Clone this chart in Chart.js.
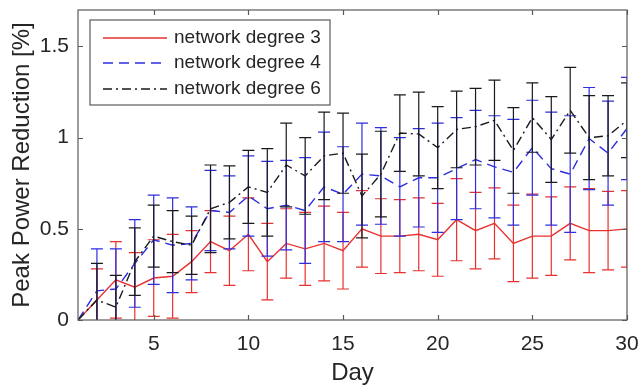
<!DOCTYPE html>
<html>
<head>
<meta charset="utf-8">
<script src="https://cdn.jsdelivr.net/npm/chart.js"></script>
<style>
    html, body { margin: 0; padding: 0; background: #fff; }
    #wrap { position: relative; width: 640px; height: 388px; }
</style>
</head>
<body>
<div id="wrap"><canvas id="peakChart"></canvas></div>
<script>
// 数据
const days = [1, 2, 3, 4, 5, 6, 7, 8, 9, 10, 11, 12, 13, 14, 15, 16, 17, 18, 19, 20, 21, 22, 23, 24, 25, 26, 27, 28, 29, 30];
const xTicks = [5, 10, 15, 20, 25, 30];
const yTicks = [0, 0.5, 1, 1.5];

const deg3 = [0, 0.11, 0.22, 0.18, 0.23, 0.24, 0.32, 0.43, 0.38, 0.47, 0.32, 0.42, 0.39, 0.42, 0.38, 0.50, 0.46, 0.46, 0.47, 0.44, 0.55, 0.49, 0.53, 0.42, 0.46, 0.46, 0.53, 0.49, 0.49, 0.50];
const deg3Err = [0, 0.17, 0.21, 0.19, 0.21, 0.23, 0.17, 0.17, 0.19, 0.20, 0.21, 0.19, 0.20, 0.205, 0.21, 0.21, 0.205, 0.20, 0.20, 0.20, 0.225, 0.21, 0.195, 0.21, 0.23, 0.215, 0.20, 0.23, 0.215, 0.21];

const deg4 = [0, 0.16, 0.17, 0.31, 0.44, 0.41, 0.42, 0.60, 0.59, 0.68, 0.61, 0.63, 0.60, 0.73, 0.69, 0.80, 0.79, 0.73, 0.78, 0.78, 0.83, 0.88, 0.84, 0.81, 0.945, 0.83, 0.80, 0.995, 0.915, 1.05];
const deg4Err = [0, 0.23, 0.22, 0.24, 0.245, 0.26, 0.20, 0.22, 0.20, 0.22, 0.26, 0.245, 0.29, 0.30, 0.26, 0.28, 0.265, 0.27, 0.27, 0.30, 0.28, 0.27, 0.28, 0.29, 0.26, 0.31, 0.32, 0.28, 0.285, 0.28];

const deg6 = [0, 0.11, 0.07, 0.32, 0.46, 0.43, 0.41, 0.61, 0.645, 0.73, 0.70, 0.85, 0.79, 0.90, 0.915, 0.68, 0.80, 1.025, 1.02, 0.945, 1.045, 1.06, 1.095, 0.93, 1.11, 0.99, 1.15, 1.00, 1.01, 1.095];
const deg6Err = [0, 0.20, 0.175, 0.185, 0.17, 0.17, 0.16, 0.24, 0.20, 0.20, 0.24, 0.23, 0.21, 0.24, 0.22, 0.23, 0.235, 0.21, 0.23, 0.225, 0.21, 0.21, 0.22, 0.235, 0.19, 0.235, 0.235, 0.23, 0.22, 0.205];

const seriesNames = ['network degree 3', 'network degree 4', 'network degree 6'];
const seriesColors = ['#e8312f', '#2e2ee0', '#1a1a1a'];
const seriesDash = [[], [10, 6], [9, 4, 2, 4]];
const errorData = [deg3Err, deg4Err, deg6Err];

const textColor = '#262626';
const fontFamily = '"Liberation Sans", Arial, sans-serif';

// 误差棒插件
const errorBarPlugin = {
    id: 'errorBars',
    beforeDatasetDraw(chart, args) {
        const i = args.index;
        const errs = errorData[i];
        if (!errs) return;
        const ds = chart.data.datasets[i];
        const xs = chart.scales.x, ys = chart.scales.y;
        const area = chart.chartArea;
        const ctx = chart.ctx;
        ctx.save();
        ctx.beginPath();
        ctx.rect(area.left, area.top, area.right - area.left, area.bottom - area.top);
        ctx.clip();
        ctx.strokeStyle = seriesColors[i];
        ctx.lineWidth = 1.2;
        ctx.setLineDash([]);
        ds.data.forEach((p) => {
            const e = errs[days.indexOf(p.x)];
            if (!e) return;
            const px = xs.getPixelForValue(p.x);
            const yt = ys.getPixelForValue(p.y + e);
            const yb = ys.getPixelForValue(p.y - e);
            ctx.beginPath();
            ctx.moveTo(px, yt); ctx.lineTo(px, yb);
            ctx.moveTo(px - 6, yt); ctx.lineTo(px + 6, yt);
            ctx.moveTo(px - 6, yb); ctx.lineTo(px + 6, yb);
            ctx.stroke();
        });
        ctx.restore();
    }
};

// 坐标框 + 内向刻度（MATLAB 风格）
const boxPlugin = {
    id: 'matlabBox',
    afterDatasetsDraw(chart) {
        const a = chart.chartArea;
        const xs = chart.scales.x, ys = chart.scales.y;
        const ctx = chart.ctx;
        ctx.save();
        ctx.strokeStyle = '#5a5a5a';
        ctx.lineWidth = 1.2;
        ctx.setLineDash([]);
        ctx.strokeRect(a.left, a.top, a.right - a.left, a.bottom - a.top);
        ctx.beginPath();
        xTicks.forEach(v => {
            const px = Math.round(xs.getPixelForValue(v)) + 0.5;
            ctx.moveTo(px, a.bottom); ctx.lineTo(px, a.bottom - 5);
            ctx.moveTo(px, a.top); ctx.lineTo(px, a.top + 5);
        });
        yTicks.forEach(v => {
            const py = Math.round(ys.getPixelForValue(v)) + 0.5;
            ctx.moveTo(a.left, py); ctx.lineTo(a.left + 5, py);
            ctx.moveTo(a.right, py); ctx.lineTo(a.right - 5, py);
        });
        ctx.stroke();
        ctx.restore();
    },
    afterDraw(chart) {
        // 图例框
        const ctx = chart.ctx;
        const bx = 90, by = 20, bw = 240, bh = 85;
        ctx.save();
        ctx.fillStyle = '#fff';
        ctx.fillRect(bx, by, bw, bh);
        ctx.strokeStyle = '#5a5a5a';
        ctx.lineWidth = 1.2;
        ctx.strokeRect(bx, by, bw, bh);
        ctx.font = '19px ' + fontFamily;
        ctx.textBaseline = 'middle';
        ctx.fillStyle = textColor;
        const rows = [38, 63, 89];
        seriesNames.forEach((name, i) => {
            ctx.strokeStyle = seriesColors[i];
            ctx.lineWidth = 1.3;
            ctx.setLineDash(seriesDash[i]);
            ctx.beginPath();
            ctx.moveTo(103, rows[i]); ctx.lineTo(167, rows[i]);
            ctx.stroke();
            ctx.fillText(name, 174, rows[i]);
        });
        ctx.restore();
    }
};

function makeDataset(i, values) {
    return {
        label: seriesNames[i],
        data: days.map((d, k) => ({ x: d, y: values[k] })),
        borderColor: seriesColors[i],
        backgroundColor: seriesColors[i],
        borderWidth: 1.4,
        borderDash: seriesDash[i],
        pointRadius: 0,
        tension: 0,
        fill: false,
        order: 3 - i
    };
}

document.addEventListener('DOMContentLoaded', function() {
    const ctx = document.getElementById('peakChart').getContext('2d');
    new Chart(ctx, {
        type: 'line',
        data: {
            datasets: [makeDataset(0, deg3), makeDataset(1, deg4), makeDataset(2, deg6)]
        },
        options: {
            responsive: true,
            maintainAspectRatio: false,
            animation: false,
            layout: { padding: { top: 10, right: 13, left: 0, bottom: 0 } },
            scales: {
                x: {
                    type: 'linear',
                    min: 1,
                    max: 30,
                    afterBuildTicks: (scale) => { scale.ticks = xTicks.map(v => ({ value: v })); },
                    afterFit: (scale) => { scale.height = 68; scale.paddingLeft = 0; scale.paddingRight = 0; },
                    grid: { display: false, drawTicks: false },
                    border: { display: false },
                    ticks: { color: textColor, font: { family: fontFamily, size: 21 }, padding: 12, maxRotation: 0 },
                    title: { display: true, text: 'Day', color: textColor, font: { family: fontFamily, size: 24 }, padding: { top: 0, bottom: 0 } }
                },
                y: {
                    min: 0,
                    max: 1.7,
                    afterBuildTicks: (scale) => { scale.ticks = yTicks.map(v => ({ value: v })); },
                    afterFit: (scale) => { scale.width = 78; scale.paddingTop = 0; scale.paddingBottom = 0; },
                    grid: { display: false, drawTicks: false },
                    border: { display: false },
                    ticks: { color: textColor, font: { family: fontFamily, size: 21 }, padding: 9,
                        callback: (v) => String(v) },
                    title: { display: true, text: 'Peak Power Reduction [%]', color: textColor, font: { family: fontFamily, size: 24 }, padding: { top: 8, bottom: 0 } }
                }
            },
            plugins: {
                legend: { display: false },
                tooltip: { enabled: false }
            }
        },
        plugins: [errorBarPlugin, boxPlugin]
    });
});
</script>
</body>
</html>
